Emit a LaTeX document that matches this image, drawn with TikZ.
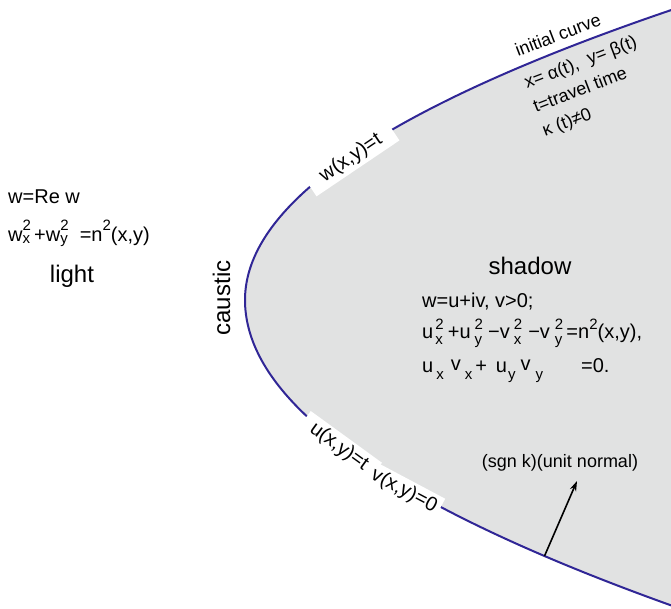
\documentclass[tikz,border=0pt]{standalone}
\usepackage{fontspec}
\setmainfont{Liberation Sans}
\usetikzlibrary{arrows.meta}
\definecolor{shadowgray}{RGB}{225,226,226}
\definecolor{curveblue}{RGB}{48,38,150}
\newcommand\fsm{\fontsize{15}{15}\selectfont}
\newcommand\stk[4]{\rlap{\raisebox{#3}{\fsm #1}}\raisebox{#4}{\fsm #2}}
\newcommand\sups[1]{\raisebox{9pt}{\fsm #1}}
\newcommand\subs[1]{\raisebox{-7pt}{\fsm #1}}
\begin{document}
\begin{tikzpicture}[x=1pt,y=-1pt,
  lbl/.style={font=\fontsize{20}{24}\selectfont, inner sep=0pt},
  sml/.style={font=\fontsize{18}{22}\selectfont, inner sep=0pt},
  bigl/.style={font=\fontsize{24}{28}\selectfont, inner sep=0pt},
  wbox/.style={fill=white, font=\fontsize{20}{24}\selectfont, inner sep=0pt, minimum height=25pt},
  curve/.style={curveblue, line width=2pt}]
\useasboundingbox (0,0) rectangle (671,608);
\begin{scope}
  \clip (0,0) rectangle (671,608);
  \fill[shadowgray] plot[domain=-12:300, samples=90, variable=\t] ({245+((\t-300)*0.0712)*((\t-300)*0.0712)},\t)
     -- plot[domain=300:618, samples=90, variable=\t] ({245+((\t-300)*0.0676)*((\t-300)*0.0676)},\t)
     -- (760,630) -- (760,-30) -- cycle;
  \draw[curve] plot[domain=-12:300, samples=90, variable=\t] ({245+((\t-300)*0.0712)*((\t-300)*0.0712)},\t)
     -- plot[domain=300:618, samples=90, variable=\t] ({245+((\t-300)*0.0676)*((\t-300)*0.0676)},\t);
\end{scope}

% white label boxes on the curve
\node[wbox, rotate=34, minimum width=100pt] (wxyt) at (351,158) {w(x,y)=t};
\node[wbox, rotate=-36, minimum width=88pt] (uxyt) at (339,447) {u(x,y)=t};
\node[wbox, rotate=-28, minimum width=80pt] (vxy0) at (404,491) {v(x,y)=0};

% initial curve labels
\node[sml, rotate=21, anchor=base west] (init) at (518,57) {initial curve};
\node[sml, rotate=21, anchor=base west] (param) at (527,89) {x= α(t),\ \ y= β(t)};
\node[sml, rotate=21, anchor=base west] (travel) at (536,113) {t=travel time};
\node[sml, rotate=21, anchor=base west] (kappa) at (545,137) {κ (t)≠0};

% light side
\node[lbl, anchor=base west] (wre) at (8,203) {w=Re w};
\node[lbl, anchor=base west] (weik) at (8,241) {w\stk{2}{x}{11pt}{-2pt}\kern4pt+w\stk{2}{y}{11pt}{-2pt}\kern12pt=n\raisebox{11pt}{\fsm 2}(x,y)};
\node[bigl, anchor=base] (light) at (72,282) {light};

\node[bigl, rotate=90, anchor=base] (caustic) at (230,298) {caustic};

% shadow side
\node[bigl, anchor=base] (shadow) at (530,274) {shadow};
\node[lbl, anchor=base west] (wuv) at (422,307) {w=u+iv, v>0;};
\node[lbl, anchor=base west] (eqa) at (422,338) {u\kern2pt\stk{2}{x}{9pt}{-6pt}\kern5pt+u\kern4pt\stk{2}{y}{9pt}{-6pt}\kern6pt−v\kern4pt\stk{2}{x}{9pt}{-6pt}\kern7pt−v\kern5pt\stk{2}{y}{9pt}{-6pt}\kern4pt=n\sups{2}(x,y),};
\node[lbl, anchor=base west] (eqb) at (422,372) {u\kern3pt\subs{x}\kern7pt\raisebox{2pt}{v}\kern4pt\subs{x}\kern3pt+\kern9pt u\kern1pt\subs{y}\kern5pt\raisebox{2pt}{v}\kern5pt\subs{y}\kern38pt=0.};

\node[sml, anchor=base] (sgn) at (560,467) {(sgn k)(unit normal)};

\coordinate (nbase) at (544.5,556);
\coordinate (ntip) at (577,481);
\draw[line width=1.6pt, -{Stealth[length=10pt,width=6.5pt]}] (nbase) -- (ntip);
\end{tikzpicture}
\end{document}
